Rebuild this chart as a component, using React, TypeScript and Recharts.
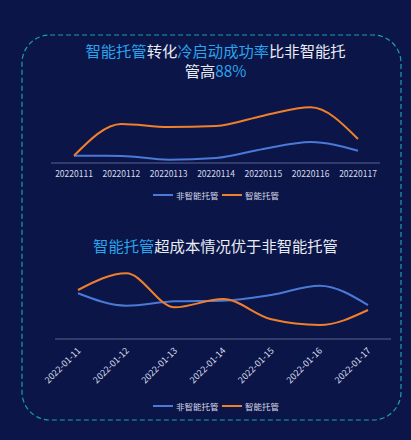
import React from 'react';
import { LineChart, Line, XAxis, YAxis } from 'recharts';

const categories1 = ['20220111', '20220112', '20220113', '20220114', '20220115', '20220116', '20220117'];
const nonSmart1 = [10.4, 10, 4.7, 7.1, 20, 30, 17.6];
const smart1 = [10.4, 55.7, 51.4, 52.9, 67.6, 79.6, 34.3];

const categories2 = ['2022-01-11', '2022-01-12', '2022-01-13', '2022-01-14', '2022-01-15', '2022-01-16', '2022-01-17'];
const nonSmart2 = [61.8, 45.0, 50.9, 51.8, 59.5, 72.0, 45.9];
const smart2 = [66.2, 88.8, 42.8, 54.1, 26.6, 18.9, 39.2];

const seriesNames = ['非智能托管', '智能托管'];

const BG = '#0b1547';
const BLUE_LINE = '#4a79d6';
const ORANGE = '#f07f2c';
const TITLE_BLUE = '#2aa4ec';
const WHITE = '#e8ecf5';
const TICK = '#d6dae8';
const AXIS = '#5b6593';
const FONT = '"Noto Sans CJK SC", "Noto Sans", sans-serif';

const data1 = categories1.map((c, i) => ({ name: c, a: nonSmart1[i], b: smart1[i] }));
const data2 = categories2.map((c, i) => ({ name: c, a: nonSmart2[i], b: smart2[i] }));

const RotTick = (props: any) => {
  const { x, y, payload } = props;
  const ty = y + 2;
  return (
    <text
      x={x + 1}
      y={ty}
      dy="0.35em"
      textAnchor="end"
      fill={TICK}
      fontSize={9}
      fontFamily={FONT}
      transform={`rotate(-45 ${x + 1} ${ty})`}
    >
      {payload.value}
    </text>
  );
};

const LegendHtml = ({ top }: { top: number }) => (
  <div
    style={{
      position: 'absolute',
      top,
      left: 153,
      display: 'flex',
      alignItems: 'center',
      fontFamily: FONT,
      fontSize: 8.5,
      color: TICK,
      lineHeight: '12px',
      whiteSpace: 'nowrap',
    }}
  >
    <span style={{ display: 'inline-block', width: 20, height: 2, background: BLUE_LINE, marginRight: 3 }} />
    <span style={{ display: 'inline-block', width: 46 }}>{seriesNames[0]}</span>
    <span style={{ display: 'inline-block', width: 20, height: 2, background: ORANGE, marginRight: 3 }} />
    <span>{seriesNames[1]}</span>
  </div>
);

export default function App() {
  return (
    <div style={{ position: 'fixed', left: 0, top: 0, width: 411, height: 440, background: BG, overflow: 'hidden' }}>
      <svg width={411} height={440} style={{ position: 'absolute', left: 0, top: 0 }}>
        <rect x={22} y={35} width={379} height={385} rx={28} ry={28} fill="none" stroke="#1b9fb3" strokeWidth={1.2} strokeDasharray="5 3" />
      </svg>

      <div
        style={{
          position: 'absolute',
          top: 40,
          left: 10,
          width: 411,
          textAlign: 'center',
          fontFamily: FONT,
          fontSize: 15.3,
          lineHeight: '20px',
          color: WHITE,
        }}
      >
        <div>
          <span style={{ color: TITLE_BLUE }}>智能托管</span>转化<span style={{ color: TITLE_BLUE }}>冷启动成功率</span>比非智能托
        </div>
        <div>
          管高<span style={{ color: TITLE_BLUE }}>88%</span>
        </div>
      </div>

      <div style={{ position: 'absolute', top: 0, left: 0 }}>
        <LineChart width={411} height={200} data={data1} margin={{ top: 93, right: 31, left: 51, bottom: 7 }}>
          <XAxis
            dataKey="name"
            axisLine={{ stroke: AXIS }}
            tickLine={false}
            interval={0}
            padding={{ left: 23, right: 22 }}
            tick={{ fill: TICK, fontSize: 8.5, fontFamily: FONT }}
            height={30}
          />
          <YAxis hide domain={[0, 100]} />
          <Line type="monotone" dataKey="a" name={seriesNames[0]} stroke={BLUE_LINE} strokeWidth={2} dot={false} isAnimationActive={false} />
          <Line type="monotone" dataKey="b" name={seriesNames[1]} stroke={ORANGE} strokeWidth={2} dot={false} isAnimationActive={false} />
        </LineChart>
      </div>
      <LegendHtml top={189} />

      <div
        style={{
          position: 'absolute',
          top: 235,
          left: 10,
          width: 411,
          textAlign: 'center',
          fontFamily: FONT,
          fontSize: 15.3,
          lineHeight: '20px',
          color: WHITE,
        }}
      >
        <span style={{ color: TITLE_BLUE }}>智能托管</span>超成本情况优于非智能托管
      </div>

      <div style={{ position: 'absolute', top: 0, left: 0 }}>
        <LineChart width={411} height={400} data={data2} margin={{ top: 265, right: 20, left: 55, bottom: 11 }}>
          <XAxis
            dataKey="name"
            axisLine={{ stroke: AXIS }}
            tickLine={false}
            interval={0}
            padding={{ left: 23, right: 23 }}
            tick={<RotTick />}
            height={50}
          />
          <YAxis hide domain={[0, 100]} />
          <Line type="monotone" dataKey="a" name={seriesNames[0]} stroke={BLUE_LINE} strokeWidth={2} dot={false} isAnimationActive={false} />
          <Line type="monotone" dataKey="b" name={seriesNames[1]} stroke={ORANGE} strokeWidth={2} dot={false} isAnimationActive={false} />
        </LineChart>
      </div>
      <LegendHtml top={400} />
    </div>
  );
}
